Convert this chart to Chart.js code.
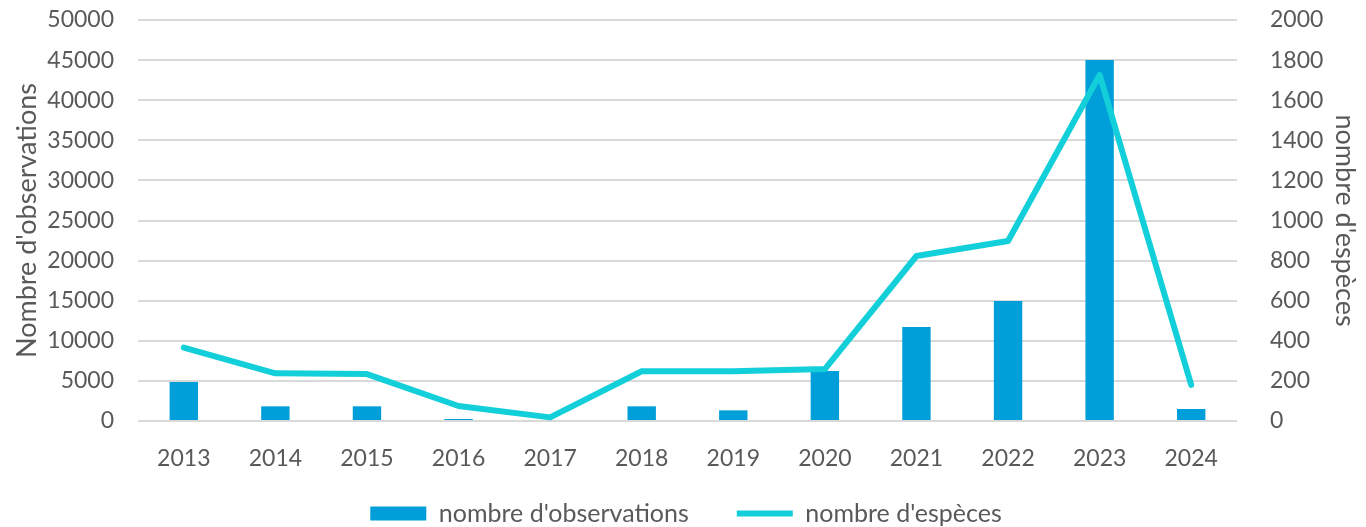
<!DOCTYPE html>
<html>
<head>
<meta charset="utf-8">
<script src="https://cdn.jsdelivr.net/npm/chart.js@4/dist/chart.umd.min.js"></script>
<style>
  html, body { margin: 0; padding: 0; background: #fff; }
  #wrap { width: 1366px; height: 527px; position: relative; }
</style>
</head>
<body>
<div id="wrap"><canvas id="combo-chart"></canvas></div>
<script>
const years = ["2013", "2014", "2015", "2016", "2017", "2018", "2019", "2020", "2021", "2022", "2023", "2024"];
const observations = [4850, 1830, 1830, 250, 0, 1830, 1330, 6230, 11720, 14960, 45000, 1500];
const species = [366, 238, 234, 75, 18, 248, 248, 259, 823, 898, 1726, 180];

const textGrey = "#595959";
const gridGrey = "#d9d9d9";
const family = "Lato, 'Liberation Sans', sans-serif";
const tickFont = { family: family, size: 23 };
const titleFont = { family: family, size: 27 };
const legendFont = { family: family, size: 25 };

// fix the side axes to the reference widths, and drop the extra top/bottom room
const sideAxis = (w) => (scale) => {
  scale.width = w;
  scale.paddingTop = 0;
  scale.paddingBottom = 0;
};

// legend padding gives the wide gap between the two items,
// but it also pushes the row down, so draw it a bit higher in its box
const legendTweak = {
  id: "legendTweak",
  beforeLayout(chart) {
    const lg = chart.legend;
    if (lg && !lg._patched) {
      const fit = lg.fit.bind(lg);
      lg.fit = function () { fit(); this.height = 55; };
      const draw = lg.draw.bind(lg);
      lg.draw = function () {
        const top = this.top;
        this.top = top - 19;
        draw();
        this.top = top;
      };
      lg._patched = true;
    }
  },
};

new Chart("combo-chart", {
  type: "bar",
  data: {
    labels: years,
    datasets: [
      {
        type: "line",
        label: "nombre d'espèces",
        data: species,
        yAxisID: "y2",
        borderColor: "#12cfd9",
        backgroundColor: "#12cfd9",
        borderWidth: 6,
        pointRadius: 0,
        tension: 0,
        borderCapStyle: "round",
        borderJoinStyle: "round",
        pointStyle: "line",
        order: 0,
      },
      {
        label: "nombre d'observations",
        data: observations,
        yAxisID: "y",
        backgroundColor: "#009fd9",
        borderWidth: 0,
        categoryPercentage: 0.31,
        barPercentage: 1,
        pointStyle: "rect",
        order: 1,
      },
    ],
  },
  options: {
    responsive: true,
    maintainAspectRatio: false,
    animation: false,
    layout: { padding: { top: 20, left: 9, right: 3, bottom: 0 } },
    scales: {
      x: {
        grid: { display: false },
        border: { display: false },
        ticks: { color: textGrey, font: tickFont, padding: 16 },
        afterFit: (scale) => { scale.height = 51; },
      },
      y: {
        position: "left",
        min: 0,
        max: 50000,
        ticks: { stepSize: 5000, color: textGrey, font: tickFont, padding: 24, callback: (v) => String(v) },
        grid: { color: gridGrey, lineWidth: 2, drawTicks: false },
        border: { display: false },
        title: { display: true, text: "Nombre d'observations", color: textGrey, font: titleFont, padding: 2 },
        afterFit: sideAxis(129),
      },
      y2: {
        position: "right",
        min: 0,
        max: 2000,
        ticks: { stepSize: 200, color: textGrey, font: tickFont, padding: 25, callback: (v) => String(v) },
        grid: { display: false },
        border: { display: false },
        title: { display: true, text: "nombre d'espèces", color: textGrey, font: titleFont, padding: 2 },
        afterFit: sideAxis(126),
      },
    },
    plugins: {
      legend: {
        position: "bottom",
        reverse: true,
        labels: {
          color: textGrey,
          font: legendFont,
          usePointStyle: true,
          pointStyleWidth: 56,
          boxHeight: 14,
          padding: 48,
        },
      },
      tooltip: { enabled: false },
    },
  },
  plugins: [legendTweak],
});
</script>
</body>
</html>
